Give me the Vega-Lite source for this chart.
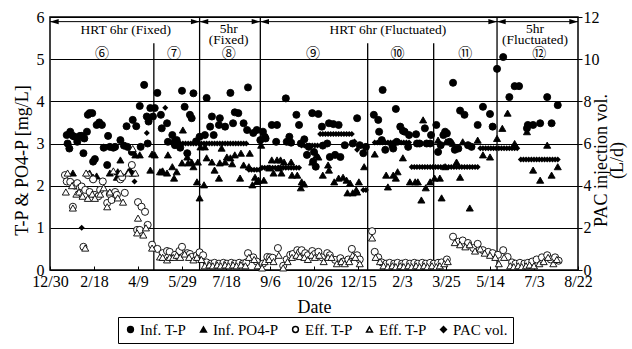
{
  "$schema": "https://vega.github.io/schema/vega-lite/v6.json",
  "width": 528,
  "height": 253,
  "autosize": {"type": "none"},
  "padding": {"left": 50, "top": 17, "right": 54, "bottom": 79},
  "background": "white",
  "config": {
    "font": "Liberation Serif",
    "view": {"stroke": "black", "strokeWidth": 1.5},
    "axis": {
      "labelFont": "Liberation Serif",
      "titleFont": "Liberation Serif",
      "labelColor": "black",
      "titleColor": "black",
      "titleFontWeight": "normal",
      "labelFontSize": 16,
      "titleFontSize": 18,
      "domain": false,
      "tickColor": "black"
    },
    "legend": {
      "labelFont": "Liberation Serif",
      "labelFontSize": 15,
      "labelColor": "black",
      "gridAlign": "none"
    },
    "text": {"font": "Liberation Serif"}
  },
  "layer": [
    {
      "layer": [
        {
          "data": {"values": [{"day": 170}, {"day": 239}, {"day": 508}]},
          "mark": {"type": "rule", "color": "black", "strokeWidth": 1.3},
          "encoding": {
            "x": {"field": "day", "type": "quantitative"},
            "y": {"datum": 0, "type": "quantitative"},
            "y2": {"datum": 6}
          }
        },
        {
          "data": {"values": [{"day": 118}, {"day": 361}, {"day": 436}]},
          "mark": {"type": "rule", "color": "black", "strokeWidth": 1.3},
          "encoding": {
            "x": {"field": "day", "type": "quantitative"},
            "y": {"datum": 0, "type": "quantitative"},
            "y2": {"datum": 5.38}
          }
        },
        {
          "data": {"values": [
            {"regime": "HRT 6hr (Fixed)", "start": 0, "end": 170},
            {"regime": "5hr (Fixed)", "start": 170, "end": 239},
            {"regime": "HRT 6hr (Fluctuated)", "start": 239, "end": 508},
            {"regime": "5hr (Fluctuated)", "start": 508, "end": 600}
          ]},
          "layer": [
            {
              "mark": {"type": "rule", "color": "black", "strokeWidth": 1},
              "encoding": {
                "x": {"field": "start", "type": "quantitative"},
                "x2": {"field": "end"},
                "y": {"datum": 5.89, "type": "quantitative"}
              }
            },
            {
              "mark": {"type": "point", "shape": "M0,0L1,-0.3L1,0.3Z", "filled": true, "color": "black", "size": 300, "opacity": 1},
              "encoding": {
                "x": {"field": "start", "type": "quantitative"},
                "y": {"datum": 5.89, "type": "quantitative"}
              }
            },
            {
              "mark": {"type": "point", "shape": "M0,0L-1,-0.3L-1,0.3Z", "filled": true, "color": "black", "size": 300, "opacity": 1},
              "encoding": {
                "x": {"field": "end", "type": "quantitative"},
                "y": {"datum": 5.89, "type": "quantitative"}
              }
            }
          ]
        },
        {
          "data": {"values": [
            {"label": "HRT 6hr (Fixed)", "day": 86},
            {"label": "HRT 6hr (Fluctuated)", "day": 384}
          ]},
          "mark": {"type": "text", "font": "Liberation Serif", "fontSize": 13.5, "color": "black", "baseline": "middle"},
          "encoding": {
            "x": {"field": "day", "type": "quantitative"},
            "y": {"datum": 5.69, "type": "quantitative"},
            "text": {"field": "label"}
          }
        },
        {
          "data": {"values": [
            {"label": "5hr\n(Fixed)", "day": 203},
            {"label": "5hr\n(Fluctuated)", "day": 551}
          ]},
          "mark": {"type": "text", "font": "Liberation Serif", "fontSize": 13.5, "color": "black", "baseline": "alphabetic", "lineBreak": "\n", "lineHeight": 11.5},
          "encoding": {
            "x": {"field": "day", "type": "quantitative"},
            "y": {"datum": 5.63, "type": "quantitative"},
            "text": {"field": "label"}
          }
        },
        {
          "data": {"values": [
            {"phase": "⑥", "day": 59},
            {"phase": "⑦", "day": 141},
            {"phase": "⑧", "day": 203},
            {"phase": "⑨", "day": 299},
            {"phase": "⑩", "day": 395},
            {"phase": "⑪", "day": 472},
            {"phase": "⑫", "day": 556}
          ]},
          "mark": {"type": "text", "font": "Noto Sans CJK JP", "fontSize": 14, "color": "black", "baseline": "middle"},
          "encoding": {
            "x": {"field": "day", "type": "quantitative"},
            "y": {"datum": 5.13, "type": "quantitative"},
            "text": {"field": "phase"}
          }
        },
        {
          "data": {"values": [
            {"series": "Inf. T-P", "day": 19, "value": 3.2},
            {"series": "Inf. T-P", "day": 20, "value": 3.0},
            {"series": "Inf. T-P", "day": 22, "value": 2.88},
            {"series": "Inf. T-P", "day": 23, "value": 3.28},
            {"series": "Inf. T-P", "day": 26, "value": 3.18},
            {"series": "Inf. T-P", "day": 28, "value": 3.16},
            {"series": "Inf. T-P", "day": 31, "value": 3.04},
            {"series": "Inf. T-P", "day": 34, "value": 3.18},
            {"series": "Inf. T-P", "day": 36, "value": 3.18},
            {"series": "Inf. T-P", "day": 38, "value": 2.77},
            {"series": "Inf. T-P", "day": 39, "value": 3.12},
            {"series": "Inf. T-P", "day": 42, "value": 3.28},
            {"series": "Inf. T-P", "day": 43, "value": 3.68},
            {"series": "Inf. T-P", "day": 45, "value": 3.72},
            {"series": "Inf. T-P", "day": 48, "value": 3.72},
            {"series": "Inf. T-P", "day": 49, "value": 2.57},
            {"series": "Inf. T-P", "day": 51, "value": 2.63},
            {"series": "Inf. T-P", "day": 53, "value": 3.44},
            {"series": "Inf. T-P", "day": 56, "value": 3.5},
            {"series": "Inf. T-P", "day": 59, "value": 3.44},
            {"series": "Inf. T-P", "day": 61, "value": 2.9},
            {"series": "Inf. T-P", "day": 65, "value": 2.49},
            {"series": "Inf. T-P", "day": 66, "value": 3.18},
            {"series": "Inf. T-P", "day": 68, "value": 2.92},
            {"series": "Inf. T-P", "day": 72, "value": 2.9},
            {"series": "Inf. T-P", "day": 74, "value": 2.92},
            {"series": "Inf. T-P", "day": 80, "value": 3.08},
            {"series": "Inf. T-P", "day": 84, "value": 2.95},
            {"series": "Inf. T-P", "day": 87, "value": 3.41},
            {"series": "Inf. T-P", "day": 88, "value": 2.92},
            {"series": "Inf. T-P", "day": 93, "value": 2.8},
            {"series": "Inf. T-P", "day": 94, "value": 3.56},
            {"series": "Inf. T-P", "day": 98, "value": 3.41},
            {"series": "Inf. T-P", "day": 102, "value": 3.89},
            {"series": "Inf. T-P", "day": 103, "value": 2.92},
            {"series": "Inf. T-P", "day": 107, "value": 4.39},
            {"series": "Inf. T-P", "day": 110, "value": 3.64},
            {"series": "Inf. T-P", "day": 111, "value": 3.0},
            {"series": "Inf. T-P", "day": 112, "value": 3.52},
            {"series": "Inf. T-P", "day": 114, "value": 3.84},
            {"series": "Inf. T-P", "day": 117, "value": 3.64},
            {"series": "Inf. T-P", "day": 119, "value": 3.84},
            {"series": "Inf. T-P", "day": 122, "value": 4.2},
            {"series": "Inf. T-P", "day": 126, "value": 3.68},
            {"series": "Inf. T-P", "day": 127, "value": 3.36},
            {"series": "Inf. T-P", "day": 133, "value": 3.48},
            {"series": "Inf. T-P", "day": 134, "value": 3.04},
            {"series": "Inf. T-P", "day": 139, "value": 3.2},
            {"series": "Inf. T-P", "day": 142, "value": 2.96},
            {"series": "Inf. T-P", "day": 144, "value": 3.08},
            {"series": "Inf. T-P", "day": 148, "value": 2.9},
            {"series": "Inf. T-P", "day": 150, "value": 4.25},
            {"series": "Inf. T-P", "day": 153, "value": 3.87},
            {"series": "Inf. T-P", "day": 156, "value": 2.77},
            {"series": "Inf. T-P", "day": 159, "value": 3.68},
            {"series": "Inf. T-P", "day": 161, "value": 3.6},
            {"series": "Inf. T-P", "day": 163, "value": 4.19},
            {"series": "Inf. T-P", "day": 166, "value": 3.05},
            {"series": "Inf. T-P", "day": 170, "value": 3.16},
            {"series": "Inf. T-P", "day": 176, "value": 3.2},
            {"series": "Inf. T-P", "day": 178, "value": 4.08},
            {"series": "Inf. T-P", "day": 182, "value": 3.4},
            {"series": "Inf. T-P", "day": 184, "value": 3.64},
            {"series": "Inf. T-P", "day": 186, "value": 3.2},
            {"series": "Inf. T-P", "day": 192, "value": 3.44},
            {"series": "Inf. T-P", "day": 193, "value": 3.6},
            {"series": "Inf. T-P", "day": 199, "value": 3.4},
            {"series": "Inf. T-P", "day": 205, "value": 4.2},
            {"series": "Inf. T-P", "day": 208, "value": 3.48},
            {"series": "Inf. T-P", "day": 210, "value": 3.74},
            {"series": "Inf. T-P", "day": 214, "value": 3.72},
            {"series": "Inf. T-P", "day": 220, "value": 3.48},
            {"series": "Inf. T-P", "day": 224, "value": 3.32},
            {"series": "Inf. T-P", "day": 225, "value": 4.33},
            {"series": "Inf. T-P", "day": 231, "value": 3.25},
            {"series": "Inf. T-P", "day": 235, "value": 3.32},
            {"series": "Inf. T-P", "day": 239, "value": 3.08},
            {"series": "Inf. T-P", "day": 242, "value": 3.28},
            {"series": "Inf. T-P", "day": 244, "value": 3.16},
            {"series": "Inf. T-P", "day": 245, "value": 3.12},
            {"series": "Inf. T-P", "day": 252, "value": 3.44},
            {"series": "Inf. T-P", "day": 257, "value": 3.04},
            {"series": "Inf. T-P", "day": 258, "value": 3.44},
            {"series": "Inf. T-P", "day": 268, "value": 4.07},
            {"series": "Inf. T-P", "day": 269, "value": 3.04},
            {"series": "Inf. T-P", "day": 272, "value": 3.16},
            {"series": "Inf. T-P", "day": 274, "value": 3.02},
            {"series": "Inf. T-P", "day": 280, "value": 3.68},
            {"series": "Inf. T-P", "day": 283, "value": 3.44},
            {"series": "Inf. T-P", "day": 285, "value": 3.0},
            {"series": "Inf. T-P", "day": 289, "value": 3.1},
            {"series": "Inf. T-P", "day": 292, "value": 2.73},
            {"series": "Inf. T-P", "day": 294, "value": 2.92},
            {"series": "Inf. T-P", "day": 298, "value": 3.72},
            {"series": "Inf. T-P", "day": 299, "value": 2.57},
            {"series": "Inf. T-P", "day": 300, "value": 2.8},
            {"series": "Inf. T-P", "day": 302, "value": 2.45},
            {"series": "Inf. T-P", "day": 305, "value": 3.7},
            {"series": "Inf. T-P", "day": 309, "value": 3.4},
            {"series": "Inf. T-P", "day": 310, "value": 2.95},
            {"series": "Inf. T-P", "day": 315, "value": 3.0},
            {"series": "Inf. T-P", "day": 317, "value": 3.48},
            {"series": "Inf. T-P", "day": 318, "value": 2.68},
            {"series": "Inf. T-P", "day": 322, "value": 3.46},
            {"series": "Inf. T-P", "day": 324, "value": 2.73},
            {"series": "Inf. T-P", "day": 328, "value": 3.44},
            {"series": "Inf. T-P", "day": 330, "value": 2.68},
            {"series": "Inf. T-P", "day": 335, "value": 2.96},
            {"series": "Inf. T-P", "day": 344, "value": 3.0},
            {"series": "Inf. T-P", "day": 349, "value": 3.6},
            {"series": "Inf. T-P", "day": 352, "value": 2.96},
            {"series": "Inf. T-P", "day": 356, "value": 2.77},
            {"series": "Inf. T-P", "day": 359, "value": 2.92},
            {"series": "Inf. T-P", "day": 368, "value": 3.68},
            {"series": "Inf. T-P", "day": 373, "value": 3.56},
            {"series": "Inf. T-P", "day": 374, "value": 3.28},
            {"series": "Inf. T-P", "day": 377, "value": 3.08},
            {"series": "Inf. T-P", "day": 378, "value": 4.27},
            {"series": "Inf. T-P", "day": 381, "value": 2.85},
            {"series": "Inf. T-P", "day": 389, "value": 2.96},
            {"series": "Inf. T-P", "day": 390, "value": 2.88},
            {"series": "Inf. T-P", "day": 393, "value": 3.82},
            {"series": "Inf. T-P", "day": 394, "value": 3.04},
            {"series": "Inf. T-P", "day": 398, "value": 3.4},
            {"series": "Inf. T-P", "day": 401, "value": 3.3},
            {"series": "Inf. T-P", "day": 403, "value": 3.28},
            {"series": "Inf. T-P", "day": 407, "value": 2.92},
            {"series": "Inf. T-P", "day": 408, "value": 3.2},
            {"series": "Inf. T-P", "day": 416, "value": 3.22},
            {"series": "Inf. T-P", "day": 417, "value": 3.0},
            {"series": "Inf. T-P", "day": 420, "value": 3.0},
            {"series": "Inf. T-P", "day": 426, "value": 3.36},
            {"series": "Inf. T-P", "day": 428, "value": 3.0},
            {"series": "Inf. T-P", "day": 432, "value": 3.0},
            {"series": "Inf. T-P", "day": 433, "value": 3.2},
            {"series": "Inf. T-P", "day": 439, "value": 3.44},
            {"series": "Inf. T-P", "day": 441, "value": 2.8},
            {"series": "Inf. T-P", "day": 444, "value": 2.96},
            {"series": "Inf. T-P", "day": 447, "value": 3.2},
            {"series": "Inf. T-P", "day": 449, "value": 3.28},
            {"series": "Inf. T-P", "day": 451, "value": 3.24},
            {"series": "Inf. T-P", "day": 454, "value": 3.04},
            {"series": "Inf. T-P", "day": 458, "value": 4.44},
            {"series": "Inf. T-P", "day": 460, "value": 2.85},
            {"series": "Inf. T-P", "day": 464, "value": 2.88},
            {"series": "Inf. T-P", "day": 466, "value": 3.78},
            {"series": "Inf. T-P", "day": 471, "value": 3.68},
            {"series": "Inf. T-P", "day": 475, "value": 2.96},
            {"series": "Inf. T-P", "day": 479, "value": 2.92},
            {"series": "Inf. T-P", "day": 486, "value": 3.44},
            {"series": "Inf. T-P", "day": 492, "value": 3.87},
            {"series": "Inf. T-P", "day": 500, "value": 3.7},
            {"series": "Inf. T-P", "day": 503, "value": 3.4},
            {"series": "Inf. T-P", "day": 508, "value": 4.77},
            {"series": "Inf. T-P", "day": 515, "value": 5.05},
            {"series": "Inf. T-P", "day": 522, "value": 4.1},
            {"series": "Inf. T-P", "day": 528, "value": 4.36},
            {"series": "Inf. T-P", "day": 533, "value": 4.36},
            {"series": "Inf. T-P", "day": 542, "value": 3.36},
            {"series": "Inf. T-P", "day": 543, "value": 3.44},
            {"series": "Inf. T-P", "day": 549, "value": 3.44},
            {"series": "Inf. T-P", "day": 557, "value": 3.48},
            {"series": "Inf. T-P", "day": 565, "value": 4.1},
            {"series": "Inf. T-P", "day": 570, "value": 3.48},
            {"series": "Inf. T-P", "day": 577, "value": 3.91},

            {"series": "Inf. PO4-P", "day": 26, "value": 2.3},
            {"series": "Inf. PO4-P", "day": 45, "value": 2.3},
            {"series": "Inf. PO4-P", "day": 49, "value": 2.2},
            {"series": "Inf. PO4-P", "day": 53, "value": 2.23},
            {"series": "Inf. PO4-P", "day": 68, "value": 2.3},
            {"series": "Inf. PO4-P", "day": 76, "value": 2.2},
            {"series": "Inf. PO4-P", "day": 77, "value": 2.33},
            {"series": "Inf. PO4-P", "day": 80, "value": 2.61},
            {"series": "Inf. PO4-P", "day": 89, "value": 2.33},
            {"series": "Inf. PO4-P", "day": 91, "value": 2.37},
            {"series": "Inf. PO4-P", "day": 94, "value": 2.3},
            {"series": "Inf. PO4-P", "day": 97, "value": 2.73},
            {"series": "Inf. PO4-P", "day": 102, "value": 2.73},
            {"series": "Inf. PO4-P", "day": 114, "value": 2.37},
            {"series": "Inf. PO4-P", "day": 116, "value": 2.75},
            {"series": "Inf. PO4-P", "day": 119, "value": 2.73},
            {"series": "Inf. PO4-P", "day": 125, "value": 2.33},
            {"series": "Inf. PO4-P", "day": 127, "value": 2.33},
            {"series": "Inf. PO4-P", "day": 128, "value": 2.35},
            {"series": "Inf. PO4-P", "day": 133, "value": 2.3},
            {"series": "Inf. PO4-P", "day": 134, "value": 2.73},
            {"series": "Inf. PO4-P", "day": 139, "value": 2.45},
            {"series": "Inf. PO4-P", "day": 140, "value": 3.08},
            {"series": "Inf. PO4-P", "day": 141, "value": 2.18},
            {"series": "Inf. PO4-P", "day": 144, "value": 2.33},
            {"series": "Inf. PO4-P", "day": 150, "value": 2.54},
            {"series": "Inf. PO4-P", "day": 151, "value": 3.32},
            {"series": "Inf. PO4-P", "day": 156, "value": 2.68},
            {"series": "Inf. PO4-P", "day": 157, "value": 2.54},
            {"series": "Inf. PO4-P", "day": 161, "value": 2.56},
            {"series": "Inf. PO4-P", "day": 163, "value": 2.45},
            {"series": "Inf. PO4-P", "day": 167, "value": 2.09},
            {"series": "Inf. PO4-P", "day": 168, "value": 2.56},
            {"series": "Inf. PO4-P", "day": 170, "value": 1.71},
            {"series": "Inf. PO4-P", "day": 171, "value": 2.92},
            {"series": "Inf. PO4-P", "day": 175, "value": 2.02},
            {"series": "Inf. PO4-P", "day": 176, "value": 2.92},
            {"series": "Inf. PO4-P", "day": 178, "value": 2.66},
            {"series": "Inf. PO4-P", "day": 184, "value": 2.56},
            {"series": "Inf. PO4-P", "day": 187, "value": 2.37},
            {"series": "Inf. PO4-P", "day": 192, "value": 2.18},
            {"series": "Inf. PO4-P", "day": 193, "value": 2.54},
            {"series": "Inf. PO4-P", "day": 195, "value": 2.89},
            {"series": "Inf. PO4-P", "day": 199, "value": 2.56},
            {"series": "Inf. PO4-P", "day": 201, "value": 2.68},
            {"series": "Inf. PO4-P", "day": 205, "value": 2.66},
            {"series": "Inf. PO4-P", "day": 207, "value": 2.52},
            {"series": "Inf. PO4-P", "day": 210, "value": 2.73},
            {"series": "Inf. PO4-P", "day": 216, "value": 2.18},
            {"series": "Inf. PO4-P", "day": 217, "value": 2.77},
            {"series": "Inf. PO4-P", "day": 220, "value": 2.49},
            {"series": "Inf. PO4-P", "day": 226, "value": 2.45},
            {"series": "Inf. PO4-P", "day": 227, "value": 2.77},
            {"series": "Inf. PO4-P", "day": 230, "value": 2.02},
            {"series": "Inf. PO4-P", "day": 233, "value": 2.2},
            {"series": "Inf. PO4-P", "day": 235, "value": 2.1},
            {"series": "Inf. PO4-P", "day": 237, "value": 2.13},
            {"series": "Inf. PO4-P", "day": 240, "value": 2.96},
            {"series": "Inf. PO4-P", "day": 243, "value": 2.13},
            {"series": "Inf. PO4-P", "day": 249, "value": 2.42},
            {"series": "Inf. PO4-P", "day": 252, "value": 2.61},
            {"series": "Inf. PO4-P", "day": 254, "value": 2.3},
            {"series": "Inf. PO4-P", "day": 258, "value": 2.61},
            {"series": "Inf. PO4-P", "day": 260, "value": 2.42},
            {"series": "Inf. PO4-P", "day": 262, "value": 2.61},
            {"series": "Inf. PO4-P", "day": 263, "value": 2.3},
            {"series": "Inf. PO4-P", "day": 266, "value": 2.56},
            {"series": "Inf. PO4-P", "day": 274, "value": 2.56},
            {"series": "Inf. PO4-P", "day": 275, "value": 2.25},
            {"series": "Inf. PO4-P", "day": 281, "value": 2.25},
            {"series": "Inf. PO4-P", "day": 285, "value": 1.95},
            {"series": "Inf. PO4-P", "day": 286, "value": 2.09},
            {"series": "Inf. PO4-P", "day": 289, "value": 2.04},
            {"series": "Inf. PO4-P", "day": 298, "value": 2.56},
            {"series": "Inf. PO4-P", "day": 303, "value": 2.73},
            {"series": "Inf. PO4-P", "day": 305, "value": 2.68},
            {"series": "Inf. PO4-P", "day": 310, "value": 2.25},
            {"series": "Inf. PO4-P", "day": 316, "value": 2.49},
            {"series": "Inf. PO4-P", "day": 317, "value": 2.37},
            {"series": "Inf. PO4-P", "day": 323, "value": 2.09},
            {"series": "Inf. PO4-P", "day": 328, "value": 2.18},
            {"series": "Inf. PO4-P", "day": 333, "value": 2.2},
            {"series": "Inf. PO4-P", "day": 337, "value": 2.13},
            {"series": "Inf. PO4-P", "day": 338, "value": 1.83},
            {"series": "Inf. PO4-P", "day": 341, "value": 2.06},
            {"series": "Inf. PO4-P", "day": 344, "value": 1.83},
            {"series": "Inf. PO4-P", "day": 348, "value": 1.9},
            {"series": "Inf. PO4-P", "day": 349, "value": 1.85},
            {"series": "Inf. PO4-P", "day": 351, "value": 2.09},
            {"series": "Inf. PO4-P", "day": 357, "value": 2.45},
            {"series": "Inf. PO4-P", "day": 369, "value": 2.75},
            {"series": "Inf. PO4-P", "day": 382, "value": 2.25},
            {"series": "Inf. PO4-P", "day": 384, "value": 1.97},
            {"series": "Inf. PO4-P", "day": 390, "value": 2.25},
            {"series": "Inf. PO4-P", "day": 393, "value": 2.18},
            {"series": "Inf. PO4-P", "day": 395, "value": 2.33},
            {"series": "Inf. PO4-P", "day": 401, "value": 2.66},
            {"series": "Inf. PO4-P", "day": 409, "value": 2.09},
            {"series": "Inf. PO4-P", "day": 415, "value": 2.09},
            {"series": "Inf. PO4-P", "day": 418, "value": 2.09},
            {"series": "Inf. PO4-P", "day": 422, "value": 1.66},
            {"series": "Inf. PO4-P", "day": 424, "value": 3.56},
            {"series": "Inf. PO4-P", "day": 427, "value": 1.95},
            {"series": "Inf. PO4-P", "day": 432, "value": 2.09},
            {"series": "Inf. PO4-P", "day": 437, "value": 2.18},
            {"series": "Inf. PO4-P", "day": 441, "value": 3.08},
            {"series": "Inf. PO4-P", "day": 443, "value": 2.18},
            {"series": "Inf. PO4-P", "day": 445, "value": 1.71},
            {"series": "Inf. PO4-P", "day": 449, "value": 2.45},
            {"series": "Inf. PO4-P", "day": 450, "value": 3.04},
            {"series": "Inf. PO4-P", "day": 458, "value": 3.0},
            {"series": "Inf. PO4-P", "day": 462, "value": 2.56},
            {"series": "Inf. PO4-P", "day": 466, "value": 2.2},
            {"series": "Inf. PO4-P", "day": 469, "value": 3.04},
            {"series": "Inf. PO4-P", "day": 477, "value": 1.47},
            {"series": "Inf. PO4-P", "day": 486, "value": 3.08},
            {"series": "Inf. PO4-P", "day": 492, "value": 2.73},
            {"series": "Inf. PO4-P", "day": 500, "value": 2.68},
            {"series": "Inf. PO4-P", "day": 508, "value": 3.12},
            {"series": "Inf. PO4-P", "day": 514, "value": 3.36},
            {"series": "Inf. PO4-P", "day": 520, "value": 3.72},
            {"series": "Inf. PO4-P", "day": 528, "value": 3.0},
            {"series": "Inf. PO4-P", "day": 542, "value": 3.28},
            {"series": "Inf. PO4-P", "day": 549, "value": 2.37},
            {"series": "Inf. PO4-P", "day": 557, "value": 2.13},
            {"series": "Inf. PO4-P", "day": 565, "value": 2.96},
            {"series": "Inf. PO4-P", "day": 570, "value": 2.25},
            {"series": "Inf. PO4-P", "day": 577, "value": 2.45},

            {"series": "Eff. T-P", "day": 17, "value": 2.25},
            {"series": "Eff. T-P", "day": 19, "value": 2.1},
            {"series": "Eff. T-P", "day": 23, "value": 2.09},
            {"series": "Eff. T-P", "day": 26, "value": 1.5},
            {"series": "Eff. T-P", "day": 28, "value": 2.0},
            {"series": "Eff. T-P", "day": 31, "value": 2.06},
            {"series": "Eff. T-P", "day": 34, "value": 1.95},
            {"series": "Eff. T-P", "day": 36, "value": 1.98},
            {"series": "Eff. T-P", "day": 38, "value": 0.55},
            {"series": "Eff. T-P", "day": 40, "value": 1.9},
            {"series": "Eff. T-P", "day": 43, "value": 2.25},
            {"series": "Eff. T-P", "day": 45, "value": 1.85},
            {"series": "Eff. T-P", "day": 49, "value": 2.15},
            {"series": "Eff. T-P", "day": 51, "value": 1.78},
            {"series": "Eff. T-P", "day": 55, "value": 1.75},
            {"series": "Eff. T-P", "day": 57, "value": 1.9},
            {"series": "Eff. T-P", "day": 60, "value": 2.1},
            {"series": "Eff. T-P", "day": 65, "value": 1.59},
            {"series": "Eff. T-P", "day": 68, "value": 1.8},
            {"series": "Eff. T-P", "day": 70, "value": 1.66},
            {"series": "Eff. T-P", "day": 74, "value": 1.85},
            {"series": "Eff. T-P", "day": 76, "value": 1.78},
            {"series": "Eff. T-P", "day": 80, "value": 2.15},
            {"series": "Eff. T-P", "day": 82, "value": 2.2},
            {"series": "Eff. T-P", "day": 85, "value": 1.83},
            {"series": "Eff. T-P", "day": 93, "value": 2.49},
            {"series": "Eff. T-P", "day": 99, "value": 0.95},
            {"series": "Eff. T-P", "day": 100, "value": 1.61},
            {"series": "Eff. T-P", "day": 102, "value": 0.95},
            {"series": "Eff. T-P", "day": 104, "value": 1.5},
            {"series": "Eff. T-P", "day": 108, "value": 1.38},
            {"series": "Eff. T-P", "day": 111, "value": 1.07},
            {"series": "Eff. T-P", "day": 116, "value": 0.6},
            {"series": "Eff. T-P", "day": 122, "value": 0.5},
            {"series": "Eff. T-P", "day": 128, "value": 0.4},
            {"series": "Eff. T-P", "day": 133, "value": 0.45},
            {"series": "Eff. T-P", "day": 136, "value": 0.43},
            {"series": "Eff. T-P", "day": 142, "value": 0.36},
            {"series": "Eff. T-P", "day": 147, "value": 0.45},
            {"series": "Eff. T-P", "day": 150, "value": 0.55},
            {"series": "Eff. T-P", "day": 156, "value": 0.4},
            {"series": "Eff. T-P", "day": 159, "value": 0.38},
            {"series": "Eff. T-P", "day": 161, "value": 0.31},
            {"series": "Eff. T-P", "day": 167, "value": 0.35},
            {"series": "Eff. T-P", "day": 170, "value": 0.42},
            {"series": "Eff. T-P", "day": 174, "value": 0.35},
            {"series": "Eff. T-P", "day": 178, "value": 0.18},
            {"series": "Eff. T-P", "day": 183, "value": 0.15},
            {"series": "Eff. T-P", "day": 187, "value": 0.17},
            {"series": "Eff. T-P", "day": 192, "value": 0.15},
            {"series": "Eff. T-P", "day": 197, "value": 0.17},
            {"series": "Eff. T-P", "day": 201, "value": 0.15},
            {"series": "Eff. T-P", "day": 206, "value": 0.17},
            {"series": "Eff. T-P", "day": 210, "value": 0.15},
            {"series": "Eff. T-P", "day": 215, "value": 0.17},
            {"series": "Eff. T-P", "day": 219, "value": 0.15},
            {"series": "Eff. T-P", "day": 223, "value": 0.18},
            {"series": "Eff. T-P", "day": 225, "value": 0.4},
            {"series": "Eff. T-P", "day": 231, "value": 0.3},
            {"series": "Eff. T-P", "day": 235, "value": 0.2},
            {"series": "Eff. T-P", "day": 239, "value": 0.1},
            {"series": "Eff. T-P", "day": 242, "value": 0.15},
            {"series": "Eff. T-P", "day": 247, "value": 0.31},
            {"series": "Eff. T-P", "day": 250, "value": 0.3},
            {"series": "Eff. T-P", "day": 253, "value": 0.29},
            {"series": "Eff. T-P", "day": 259, "value": 0.52},
            {"series": "Eff. T-P", "day": 265, "value": 0.1},
            {"series": "Eff. T-P", "day": 269, "value": 0.25},
            {"series": "Eff. T-P", "day": 273, "value": 0.36},
            {"series": "Eff. T-P", "day": 276, "value": 0.38},
            {"series": "Eff. T-P", "day": 281, "value": 0.47},
            {"series": "Eff. T-P", "day": 284, "value": 0.42},
            {"series": "Eff. T-P", "day": 286, "value": 0.47},
            {"series": "Eff. T-P", "day": 290, "value": 0.4},
            {"series": "Eff. T-P", "day": 293, "value": 0.35},
            {"series": "Eff. T-P", "day": 298, "value": 0.45},
            {"series": "Eff. T-P", "day": 301, "value": 0.38},
            {"series": "Eff. T-P", "day": 305, "value": 0.43},
            {"series": "Eff. T-P", "day": 309, "value": 0.3},
            {"series": "Eff. T-P", "day": 315, "value": 0.4},
            {"series": "Eff. T-P", "day": 318, "value": 0.35},
            {"series": "Eff. T-P", "day": 324, "value": 0.24},
            {"series": "Eff. T-P", "day": 330, "value": 0.28},
            {"series": "Eff. T-P", "day": 333, "value": 0.2},
            {"series": "Eff. T-P", "day": 339, "value": 0.25},
            {"series": "Eff. T-P", "day": 343, "value": 0.5},
            {"series": "Eff. T-P", "day": 349, "value": 0.35},
            {"series": "Eff. T-P", "day": 352, "value": 0.25},
            {"series": "Eff. T-P", "day": 366, "value": 0.92},
            {"series": "Eff. T-P", "day": 369, "value": 0.43},
            {"series": "Eff. T-P", "day": 373, "value": 0.3},
            {"series": "Eff. T-P", "day": 377, "value": 0.18},
            {"series": "Eff. T-P", "day": 382, "value": 0.15},
            {"series": "Eff. T-P", "day": 386, "value": 0.17},
            {"series": "Eff. T-P", "day": 391, "value": 0.15},
            {"series": "Eff. T-P", "day": 395, "value": 0.17},
            {"series": "Eff. T-P", "day": 400, "value": 0.15},
            {"series": "Eff. T-P", "day": 404, "value": 0.17},
            {"series": "Eff. T-P", "day": 409, "value": 0.15},
            {"series": "Eff. T-P", "day": 414, "value": 0.17},
            {"series": "Eff. T-P", "day": 418, "value": 0.15},
            {"series": "Eff. T-P", "day": 423, "value": 0.17},
            {"series": "Eff. T-P", "day": 427, "value": 0.15},
            {"series": "Eff. T-P", "day": 432, "value": 0.17},
            {"series": "Eff. T-P", "day": 436, "value": 0.15},
            {"series": "Eff. T-P", "day": 441, "value": 0.17},
            {"series": "Eff. T-P", "day": 445, "value": 0.18},
            {"series": "Eff. T-P", "day": 451, "value": 0.25},
            {"series": "Eff. T-P", "day": 458, "value": 0.79},
            {"series": "Eff. T-P", "day": 464, "value": 0.67},
            {"series": "Eff. T-P", "day": 469, "value": 0.7},
            {"series": "Eff. T-P", "day": 475, "value": 0.64},
            {"series": "Eff. T-P", "day": 481, "value": 0.52},
            {"series": "Eff. T-P", "day": 486, "value": 0.62},
            {"series": "Eff. T-P", "day": 492, "value": 0.47},
            {"series": "Eff. T-P", "day": 498, "value": 0.43},
            {"series": "Eff. T-P", "day": 503, "value": 0.4},
            {"series": "Eff. T-P", "day": 509, "value": 0.36},
            {"series": "Eff. T-P", "day": 515, "value": 0.47},
            {"series": "Eff. T-P", "day": 520, "value": 0.31},
            {"series": "Eff. T-P", "day": 525, "value": 0.18},
            {"series": "Eff. T-P", "day": 529, "value": 0.15},
            {"series": "Eff. T-P", "day": 534, "value": 0.17},
            {"series": "Eff. T-P", "day": 539, "value": 0.15},
            {"series": "Eff. T-P", "day": 543, "value": 0.17},
            {"series": "Eff. T-P", "day": 548, "value": 0.2},
            {"series": "Eff. T-P", "day": 553, "value": 0.25},
            {"series": "Eff. T-P", "day": 559, "value": 0.3},
            {"series": "Eff. T-P", "day": 565, "value": 0.35},
            {"series": "Eff. T-P", "day": 569, "value": 0.25},
            {"series": "Eff. T-P", "day": 574, "value": 0.3},
            {"series": "Eff. T-P", "day": 578, "value": 0.22},

            {"series": "Eff. PO4-P", "day": 18, "value": 1.85},
            {"series": "Eff. PO4-P", "day": 20, "value": 2.3},
            {"series": "Eff. PO4-P", "day": 25, "value": 2.0},
            {"series": "Eff. PO4-P", "day": 26, "value": 1.47},
            {"series": "Eff. PO4-P", "day": 30, "value": 1.8},
            {"series": "Eff. PO4-P", "day": 33, "value": 1.85},
            {"series": "Eff. PO4-P", "day": 37, "value": 1.75},
            {"series": "Eff. PO4-P", "day": 40, "value": 0.52},
            {"series": "Eff. PO4-P", "day": 41, "value": 2.3},
            {"series": "Eff. PO4-P", "day": 43, "value": 1.7},
            {"series": "Eff. PO4-P", "day": 48, "value": 1.8},
            {"series": "Eff. PO4-P", "day": 51, "value": 1.7},
            {"series": "Eff. PO4-P", "day": 57, "value": 1.8},
            {"series": "Eff. PO4-P", "day": 61, "value": 1.95},
            {"series": "Eff. PO4-P", "day": 65, "value": 1.5},
            {"series": "Eff. PO4-P", "day": 68, "value": 1.85},
            {"series": "Eff. PO4-P", "day": 72, "value": 2.35},
            {"series": "Eff. PO4-P", "day": 77, "value": 1.71},
            {"series": "Eff. PO4-P", "day": 80, "value": 2.3},
            {"series": "Eff. PO4-P", "day": 83, "value": 1.61},
            {"series": "Eff. PO4-P", "day": 89, "value": 2.3},
            {"series": "Eff. PO4-P", "day": 94, "value": 2.88},
            {"series": "Eff. PO4-P", "day": 97, "value": 2.3},
            {"series": "Eff. PO4-P", "day": 99, "value": 0.88},
            {"series": "Eff. PO4-P", "day": 100, "value": 1.23},
            {"series": "Eff. PO4-P", "day": 106, "value": 0.83},
            {"series": "Eff. PO4-P", "day": 109, "value": 1.0},
            {"series": "Eff. PO4-P", "day": 116, "value": 0.52},
            {"series": "Eff. PO4-P", "day": 125, "value": 0.31},
            {"series": "Eff. PO4-P", "day": 128, "value": 0.3},
            {"series": "Eff. PO4-P", "day": 133, "value": 0.24},
            {"series": "Eff. PO4-P", "day": 136, "value": 0.3},
            {"series": "Eff. PO4-P", "day": 140, "value": 0.3},
            {"series": "Eff. PO4-P", "day": 144, "value": 0.35},
            {"series": "Eff. PO4-P", "day": 148, "value": 0.3},
            {"series": "Eff. PO4-P", "day": 153, "value": 0.38},
            {"series": "Eff. PO4-P", "day": 158, "value": 0.3},
            {"series": "Eff. PO4-P", "day": 163, "value": 0.24},
            {"series": "Eff. PO4-P", "day": 167, "value": 0.3},
            {"series": "Eff. PO4-P", "day": 172, "value": 0.25},
            {"series": "Eff. PO4-P", "day": 176, "value": 0.1},
            {"series": "Eff. PO4-P", "day": 181, "value": 0.12},
            {"series": "Eff. PO4-P", "day": 185, "value": 0.1},
            {"series": "Eff. PO4-P", "day": 190, "value": 0.12},
            {"series": "Eff. PO4-P", "day": 194, "value": 0.1},
            {"series": "Eff. PO4-P", "day": 199, "value": 0.12},
            {"series": "Eff. PO4-P", "day": 203, "value": 0.1},
            {"series": "Eff. PO4-P", "day": 208, "value": 0.12},
            {"series": "Eff. PO4-P", "day": 212, "value": 0.1},
            {"series": "Eff. PO4-P", "day": 217, "value": 0.12},
            {"series": "Eff. PO4-P", "day": 222, "value": 0.1},
            {"series": "Eff. PO4-P", "day": 226, "value": 0.3},
            {"series": "Eff. PO4-P", "day": 232, "value": 0.25},
            {"series": "Eff. PO4-P", "day": 236, "value": 0.1},
            {"series": "Eff. PO4-P", "day": 241, "value": 0.05},
            {"series": "Eff. PO4-P", "day": 244, "value": 0.2},
            {"series": "Eff. PO4-P", "day": 249, "value": 0.25},
            {"series": "Eff. PO4-P", "day": 254, "value": 0.2},
            {"series": "Eff. PO4-P", "day": 260, "value": 0.35},
            {"series": "Eff. PO4-P", "day": 265, "value": 0.05},
            {"series": "Eff. PO4-P", "day": 270, "value": 0.2},
            {"series": "Eff. PO4-P", "day": 275, "value": 0.3},
            {"series": "Eff. PO4-P", "day": 280, "value": 0.35},
            {"series": "Eff. PO4-P", "day": 284, "value": 0.32},
            {"series": "Eff. PO4-P", "day": 289, "value": 0.3},
            {"series": "Eff. PO4-P", "day": 293, "value": 0.25},
            {"series": "Eff. PO4-P", "day": 297, "value": 0.35},
            {"series": "Eff. PO4-P", "day": 301, "value": 0.3},
            {"series": "Eff. PO4-P", "day": 306, "value": 0.35},
            {"series": "Eff. PO4-P", "day": 311, "value": 0.2},
            {"series": "Eff. PO4-P", "day": 316, "value": 0.3},
            {"series": "Eff. PO4-P", "day": 320, "value": 0.3},
            {"series": "Eff. PO4-P", "day": 326, "value": 0.15},
            {"series": "Eff. PO4-P", "day": 331, "value": 0.2},
            {"series": "Eff. PO4-P", "day": 335, "value": 0.15},
            {"series": "Eff. PO4-P", "day": 340, "value": 0.2},
            {"series": "Eff. PO4-P", "day": 344, "value": 0.35},
            {"series": "Eff. PO4-P", "day": 347, "value": 0.3},
            {"series": "Eff. PO4-P", "day": 352, "value": 0.15},
            {"series": "Eff. PO4-P", "day": 366, "value": 0.76},
            {"series": "Eff. PO4-P", "day": 370, "value": 0.3},
            {"series": "Eff. PO4-P", "day": 375, "value": 0.2},
            {"series": "Eff. PO4-P", "day": 379, "value": 0.1},
            {"series": "Eff. PO4-P", "day": 384, "value": 0.08},
            {"series": "Eff. PO4-P", "day": 389, "value": 0.1},
            {"series": "Eff. PO4-P", "day": 393, "value": 0.08},
            {"series": "Eff. PO4-P", "day": 398, "value": 0.1},
            {"series": "Eff. PO4-P", "day": 402, "value": 0.08},
            {"series": "Eff. PO4-P", "day": 407, "value": 0.1},
            {"series": "Eff. PO4-P", "day": 411, "value": 0.08},
            {"series": "Eff. PO4-P", "day": 416, "value": 0.1},
            {"series": "Eff. PO4-P", "day": 420, "value": 0.08},
            {"series": "Eff. PO4-P", "day": 425, "value": 0.1},
            {"series": "Eff. PO4-P", "day": 429, "value": 0.08},
            {"series": "Eff. PO4-P", "day": 434, "value": 0.1},
            {"series": "Eff. PO4-P", "day": 439, "value": 0.08},
            {"series": "Eff. PO4-P", "day": 443, "value": 0.1},
            {"series": "Eff. PO4-P", "day": 448, "value": 0.15},
            {"series": "Eff. PO4-P", "day": 452, "value": 0.2},
            {"series": "Eff. PO4-P", "day": 460, "value": 0.65},
            {"series": "Eff. PO4-P", "day": 466, "value": 0.6},
            {"series": "Eff. PO4-P", "day": 472, "value": 0.55},
            {"series": "Eff. PO4-P", "day": 477, "value": 0.6},
            {"series": "Eff. PO4-P", "day": 483, "value": 0.45},
            {"series": "Eff. PO4-P", "day": 489, "value": 0.5},
            {"series": "Eff. PO4-P", "day": 494, "value": 0.4},
            {"series": "Eff. PO4-P", "day": 500, "value": 0.35},
            {"series": "Eff. PO4-P", "day": 506, "value": 0.3},
            {"series": "Eff. PO4-P", "day": 510, "value": 0.15},
            {"series": "Eff. PO4-P", "day": 516, "value": 0.3},
            {"series": "Eff. PO4-P", "day": 523, "value": 0.1},
            {"series": "Eff. PO4-P", "day": 527, "value": 0.08},
            {"series": "Eff. PO4-P", "day": 532, "value": 0.1},
            {"series": "Eff. PO4-P", "day": 536, "value": 0.08},
            {"series": "Eff. PO4-P", "day": 541, "value": 0.1},
            {"series": "Eff. PO4-P", "day": 545, "value": 0.12},
            {"series": "Eff. PO4-P", "day": 550, "value": 0.1},
            {"series": "Eff. PO4-P", "day": 556, "value": 0.15},
            {"series": "Eff. PO4-P", "day": 561, "value": 0.2},
            {"series": "Eff. PO4-P", "day": 566, "value": 0.3},
            {"series": "Eff. PO4-P", "day": 572, "value": 0.15},
            {"series": "Eff. PO4-P", "day": 576, "value": 0.25}
          ]},
          "mark": {"type": "point", "filled": true, "stroke": "black", "strokeWidth": 0.9, "size": 50, "opacity": 1},
          "encoding": {
            "x": {
              "field": "day",
              "type": "quantitative",
              "scale": {"domain": [0, 600], "nice": false},
              "axis": {
                "values": [0, 50, 100, 150, 200, 250, 300, 350, 400, 450, 500, 550, 600],
                "labelExpr": "['12/30','2/18','4/9','5/29','7/18','9/6','10/26','12/15','2/3','3/25','5/14','7/3','8/22'][round(datum.value / 50)]",
                "labelFont": "Liberation Serif",
                "labelFontSize": 16,
                "labelFlush": false,
                "labelOverlap": false,
                "grid": false,
                "ticks": true,
                "tickSize": -4,
                "labelPadding": 7,
                "title": "Date",
                "titleFont": "Liberation Serif",
                "titleFontSize": 18,
                "titleY": 42,
                "titleBaseline": "alphabetic"
              }
            },
            "y": {
              "field": "value",
              "type": "quantitative",
              "scale": {"domain": [0, 6], "nice": false, "zero": true},
              "axis": {
                "orient": "left",
                "values": [0, 0.5, 1, 1.5, 2, 2.5, 3, 3.5, 4, 4.5, 5, 5.5, 6],
                "labelExpr": "datum.value % 1 === 0 ? datum.label : ''",
                "labelFont": "Liberation Serif",
                "labelFontSize": 16,
                "labelFlush": false,
                "labelOverlap": false,
                "labelBound": false,
                "ticks": false,
                "tickSize": 0,
                "labelPadding": 6,
                "grid": true,
                "gridColor": "black",
                "gridOpacity": 1,
                "gridWidth": {"condition": {"test": "datum.value % 1 !== 0", "value": 1.2}, "value": 1},
                "gridDash": {"condition": {"test": "datum.value % 1 !== 0", "value": [2, 3]}, "value": []},
                "title": "T-P & PO4-P [mg/L]",
                "titleFont": "Liberation Serif",
                "titleFontSize": 18,
                "titleX": -23,
                "titleY": 143,
                "titleAngle": 270,
                "titleAlign": "center",
                "titleBaseline": "alphabetic"
              }
            },
            "shape": {
              "field": "series",
              "type": "nominal",
              "scale": {
                "domain": ["Inf. T-P", "Inf. PO4-P", "Eff. T-P", "Eff. PO4-P", "PAC vol."],
                "range": ["circle", "triangle-up", "circle", "triangle-up", "diamond"]
              },
              "legend": {
                "title": null,
                "orient": "none",
                "legendX": 68,
                "legendY": 300,
                "direction": "horizontal",
                "columns": 5,
                "columnPadding": 9,
                "gridAlign": "none",
                "strokeColor": "black",
                "fillColor": "white",
                "padding": 5,
                "symbolSize": 34,
                "labelFont": "Liberation Serif",
                "labelFontSize": 15,
                "labelOffset": 2,
                "labelExpr": "datum.label === 'Eff. PO4-P' ? 'Eff. T-P' : datum.label",
                "encode": {
                  "symbols": {"update": {"stroke": {"value": "black"}, "strokeWidth": {"value": 1}}}
                }
              }
            },
            "fill": {
              "field": "series",
              "type": "nominal",
              "scale": {
                "domain": ["Inf. T-P", "Inf. PO4-P", "Eff. T-P", "Eff. PO4-P", "PAC vol."],
                "range": ["black", "black", "white", "white", "black"]
              },
              "legend": {
                "title": null,
                "orient": "none",
                "legendX": 68,
                "legendY": 300,
                "direction": "horizontal",
                "columns": 5,
                "columnPadding": 9,
                "gridAlign": "none",
                "strokeColor": "black",
                "fillColor": "white",
                "padding": 5,
                "symbolSize": 34,
                "labelFont": "Liberation Serif",
                "labelFontSize": 15,
                "labelOffset": 2,
                "labelExpr": "datum.label === 'Eff. PO4-P' ? 'Eff. T-P' : datum.label",
                "encode": {
                  "symbols": {"update": {"stroke": {"value": "black"}, "strokeWidth": {"value": 1}}}
                }
              }
            }
          }
        }
      ]
    },
    {
      "data": {"values": [
        {"series": "PAC vol.", "day": 36, "vol": 2.0},
        {"series": "PAC vol.", "day": 96, "vol": 4.2},
        {"series": "PAC vol.", "day": 110, "vol": 6.5},
        {"series": "PAC vol.", "day": 131, "vol": 7.7},
        {"series": "PAC vol.", "day": 139, "vol": 6.0},
        {"series": "PAC vol.", "day": 142, "vol": 6.0},
        {"series": "PAC vol.", "day": 145, "vol": 6.0},
        {"series": "PAC vol.", "day": 148, "vol": 6.0},
        {"series": "PAC vol.", "day": 151, "vol": 6.0},
        {"series": "PAC vol.", "day": 154, "vol": 6.0},
        {"series": "PAC vol.", "day": 157, "vol": 6.0},
        {"series": "PAC vol.", "day": 160, "vol": 6.0},
        {"series": "PAC vol.", "day": 163, "vol": 6.0},
        {"series": "PAC vol.", "day": 166, "vol": 6.0},
        {"series": "PAC vol.", "day": 169, "vol": 6.0},
        {"series": "PAC vol.", "day": 172, "vol": 6.0},
        {"series": "PAC vol.", "day": 175, "vol": 6.0},
        {"series": "PAC vol.", "day": 178, "vol": 6.0},
        {"series": "PAC vol.", "day": 181, "vol": 6.0},
        {"series": "PAC vol.", "day": 184, "vol": 6.0},
        {"series": "PAC vol.", "day": 187, "vol": 6.0},
        {"series": "PAC vol.", "day": 190, "vol": 6.0},
        {"series": "PAC vol.", "day": 193, "vol": 6.0},
        {"series": "PAC vol.", "day": 196, "vol": 6.0},
        {"series": "PAC vol.", "day": 199, "vol": 6.0},
        {"series": "PAC vol.", "day": 202, "vol": 6.0},
        {"series": "PAC vol.", "day": 205, "vol": 6.0},
        {"series": "PAC vol.", "day": 208, "vol": 6.0},
        {"series": "PAC vol.", "day": 211, "vol": 6.0},
        {"series": "PAC vol.", "day": 214, "vol": 6.0},
        {"series": "PAC vol.", "day": 217, "vol": 6.0},
        {"series": "PAC vol.", "day": 220, "vol": 6.0},
        {"series": "PAC vol.", "day": 223, "vol": 6.0},
        {"series": "PAC vol.", "day": 226, "vol": 4.75},
        {"series": "PAC vol.", "day": 229, "vol": 4.75},
        {"series": "PAC vol.", "day": 232, "vol": 4.75},
        {"series": "PAC vol.", "day": 235, "vol": 4.75},
        {"series": "PAC vol.", "day": 238, "vol": 4.75},
        {"series": "PAC vol.", "day": 241, "vol": 4.85},
        {"series": "PAC vol.", "day": 244, "vol": 4.85},
        {"series": "PAC vol.", "day": 247, "vol": 4.85},
        {"series": "PAC vol.", "day": 250, "vol": 4.85},
        {"series": "PAC vol.", "day": 253, "vol": 4.85},
        {"series": "PAC vol.", "day": 256, "vol": 4.85},
        {"series": "PAC vol.", "day": 259, "vol": 4.85},
        {"series": "PAC vol.", "day": 262, "vol": 4.85},
        {"series": "PAC vol.", "day": 265, "vol": 4.85},
        {"series": "PAC vol.", "day": 268, "vol": 4.85},
        {"series": "PAC vol.", "day": 271, "vol": 4.85},
        {"series": "PAC vol.", "day": 274, "vol": 4.85},
        {"series": "PAC vol.", "day": 277, "vol": 4.85},
        {"series": "PAC vol.", "day": 280, "vol": 4.85},
        {"series": "PAC vol.", "day": 283, "vol": 4.85},
        {"series": "PAC vol.", "day": 286, "vol": 5.9},
        {"series": "PAC vol.", "day": 289, "vol": 5.9},
        {"series": "PAC vol.", "day": 292, "vol": 5.9},
        {"series": "PAC vol.", "day": 295, "vol": 5.9},
        {"series": "PAC vol.", "day": 298, "vol": 5.9},
        {"series": "PAC vol.", "day": 301, "vol": 5.9},
        {"series": "PAC vol.", "day": 304, "vol": 5.9},
        {"series": "PAC vol.", "day": 307, "vol": 6.45},
        {"series": "PAC vol.", "day": 310, "vol": 6.45},
        {"series": "PAC vol.", "day": 313, "vol": 6.45},
        {"series": "PAC vol.", "day": 316, "vol": 6.45},
        {"series": "PAC vol.", "day": 319, "vol": 6.45},
        {"series": "PAC vol.", "day": 322, "vol": 6.45},
        {"series": "PAC vol.", "day": 325, "vol": 6.45},
        {"series": "PAC vol.", "day": 328, "vol": 6.45},
        {"series": "PAC vol.", "day": 331, "vol": 6.45},
        {"series": "PAC vol.", "day": 334, "vol": 6.45},
        {"series": "PAC vol.", "day": 337, "vol": 6.45},
        {"series": "PAC vol.", "day": 340, "vol": 6.45},
        {"series": "PAC vol.", "day": 343, "vol": 6.45},
        {"series": "PAC vol.", "day": 346, "vol": 6.1},
        {"series": "PAC vol.", "day": 349, "vol": 5.7},
        {"series": "PAC vol.", "day": 356, "vol": 3.8},
        {"series": "PAC vol.", "day": 359, "vol": 3.8},
        {"series": "PAC vol.", "day": 369, "vol": 6.05},
        {"series": "PAC vol.", "day": 372, "vol": 6.05},
        {"series": "PAC vol.", "day": 375, "vol": 6.05},
        {"series": "PAC vol.", "day": 378, "vol": 6.05},
        {"series": "PAC vol.", "day": 381, "vol": 6.05},
        {"series": "PAC vol.", "day": 384, "vol": 6.05},
        {"series": "PAC vol.", "day": 387, "vol": 6.05},
        {"series": "PAC vol.", "day": 390, "vol": 6.05},
        {"series": "PAC vol.", "day": 393, "vol": 6.05},
        {"series": "PAC vol.", "day": 396, "vol": 6.05},
        {"series": "PAC vol.", "day": 399, "vol": 6.05},
        {"series": "PAC vol.", "day": 402, "vol": 6.05},
        {"series": "PAC vol.", "day": 405, "vol": 6.05},
        {"series": "PAC vol.", "day": 408, "vol": 6.05},
        {"series": "PAC vol.", "day": 411, "vol": 4.88},
        {"series": "PAC vol.", "day": 414, "vol": 4.88},
        {"series": "PAC vol.", "day": 417, "vol": 4.88},
        {"series": "PAC vol.", "day": 420, "vol": 4.88},
        {"series": "PAC vol.", "day": 423, "vol": 4.88},
        {"series": "PAC vol.", "day": 426, "vol": 4.88},
        {"series": "PAC vol.", "day": 429, "vol": 4.88},
        {"series": "PAC vol.", "day": 432, "vol": 4.88},
        {"series": "PAC vol.", "day": 435, "vol": 4.88},
        {"series": "PAC vol.", "day": 438, "vol": 4.88},
        {"series": "PAC vol.", "day": 441, "vol": 4.88},
        {"series": "PAC vol.", "day": 444, "vol": 4.88},
        {"series": "PAC vol.", "day": 447, "vol": 4.88},
        {"series": "PAC vol.", "day": 450, "vol": 4.88},
        {"series": "PAC vol.", "day": 453, "vol": 4.88},
        {"series": "PAC vol.", "day": 456, "vol": 4.88},
        {"series": "PAC vol.", "day": 459, "vol": 4.88},
        {"series": "PAC vol.", "day": 462, "vol": 4.88},
        {"series": "PAC vol.", "day": 465, "vol": 4.88},
        {"series": "PAC vol.", "day": 468, "vol": 4.88},
        {"series": "PAC vol.", "day": 471, "vol": 4.88},
        {"series": "PAC vol.", "day": 474, "vol": 4.88},
        {"series": "PAC vol.", "day": 477, "vol": 4.88},
        {"series": "PAC vol.", "day": 480, "vol": 4.88},
        {"series": "PAC vol.", "day": 483, "vol": 4.88},
        {"series": "PAC vol.", "day": 486, "vol": 4.88},
        {"series": "PAC vol.", "day": 489, "vol": 5.78},
        {"series": "PAC vol.", "day": 492, "vol": 5.78},
        {"series": "PAC vol.", "day": 495, "vol": 5.78},
        {"series": "PAC vol.", "day": 498, "vol": 5.78},
        {"series": "PAC vol.", "day": 501, "vol": 5.78},
        {"series": "PAC vol.", "day": 504, "vol": 5.78},
        {"series": "PAC vol.", "day": 507, "vol": 5.78},
        {"series": "PAC vol.", "day": 510, "vol": 5.78},
        {"series": "PAC vol.", "day": 513, "vol": 5.78},
        {"series": "PAC vol.", "day": 516, "vol": 5.78},
        {"series": "PAC vol.", "day": 519, "vol": 5.78},
        {"series": "PAC vol.", "day": 522, "vol": 5.78},
        {"series": "PAC vol.", "day": 525, "vol": 5.78},
        {"series": "PAC vol.", "day": 528, "vol": 5.78},
        {"series": "PAC vol.", "day": 531, "vol": 5.78},
        {"series": "PAC vol.", "day": 535, "vol": 5.24},
        {"series": "PAC vol.", "day": 538, "vol": 5.24},
        {"series": "PAC vol.", "day": 541, "vol": 5.24},
        {"series": "PAC vol.", "day": 544, "vol": 5.24},
        {"series": "PAC vol.", "day": 547, "vol": 5.24},
        {"series": "PAC vol.", "day": 550, "vol": 5.24},
        {"series": "PAC vol.", "day": 553, "vol": 5.24},
        {"series": "PAC vol.", "day": 556, "vol": 5.24},
        {"series": "PAC vol.", "day": 559, "vol": 5.24},
        {"series": "PAC vol.", "day": 562, "vol": 5.24},
        {"series": "PAC vol.", "day": 565, "vol": 5.24},
        {"series": "PAC vol.", "day": 568, "vol": 5.24},
        {"series": "PAC vol.", "day": 571, "vol": 5.24},
        {"series": "PAC vol.", "day": 574, "vol": 5.24},
        {"series": "PAC vol.", "day": 577, "vol": 5.24}
      ]},
      "mark": {"type": "point", "filled": true, "size": 36, "opacity": 1},
      "encoding": {
        "x": {"field": "day", "type": "quantitative"},
        "y": {
          "field": "vol",
          "type": "quantitative",
          "scale": {"domain": [0, 12], "nice": false},
          "axis": {
            "orient": "right",
            "values": [0, 2, 4, 6, 8, 10, 12],
            "labelFont": "Liberation Serif",
            "labelFontSize": 16,
            "labelFlush": false,
            "labelOverlap": false,
            "labelBound": false,
            "grid": false,
            "ticks": true,
            "tickSize": 4,
            "labelPadding": 1,
            "title": ["PAC injection vol.", "(L/d)"],
            "titleFont": "Liberation Serif",
            "titleFontSize": 18,
            "titleX": 28,
            "titleY": 143,
            "titleAngle": 270,
            "titleAlign": "center",
            "titleBaseline": "alphabetic",
            "titleLineHeight": 16
          }
        },
        "shape": {
          "field": "series",
          "type": "nominal",
          "scale": {
            "domain": ["Inf. T-P", "Inf. PO4-P", "Eff. T-P", "Eff. PO4-P", "PAC vol."],
            "range": ["circle", "triangle-up", "circle", "triangle-up", "diamond"]
          }
        },
        "fill": {
          "field": "series",
          "type": "nominal",
          "scale": {
            "domain": ["Inf. T-P", "Inf. PO4-P", "Eff. T-P", "Eff. PO4-P", "PAC vol."],
            "range": ["black", "black", "white", "white", "black"]
          }
        }
      }
    }
  ],
  "resolve": {"scale": {"y": "independent"}, "axis": {"y": "independent"}}
}
